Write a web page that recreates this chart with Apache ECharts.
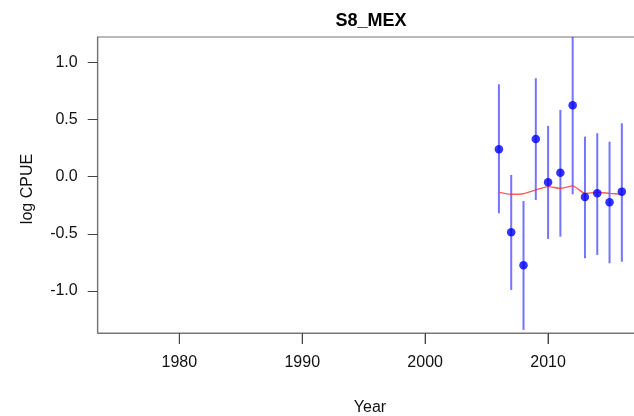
<!DOCTYPE html>
<html>
<head>
<meta charset="utf-8">
<script src="https://cdn.jsdelivr.net/npm/echarts@6/dist/echarts.min.js"></script>
<style>html,body{margin:0;padding:0;background:#fff}#c{width:634px;height:416px}</style>
</head>
<body>
<div id="c"></div>
<script>
const years = [2006, 2007, 2008, 2009, 2010, 2011, 2012, 2013, 2014, 2015, 2016];
const logCpue = [0.240, -0.487, -0.776, 0.330, -0.049, 0.035, 0.625, -0.178, -0.146, -0.224, -0.131];
const upper = [0.808, 0.015, -0.213, 0.861, 0.444, 0.584, 1.404, 0.350, 0.380, 0.306, 0.467];
const lower = [-0.320, -0.991, -1.341, -0.204, -0.545, -0.525, -0.154, -0.714, -0.685, -0.758, -0.744];
const fitted = [-0.137, -0.154, -0.149, -0.116, -0.087, -0.102, -0.081, -0.146, -0.137, -0.146, -0.154];
const xTicks = [1980, 1990, 2000, 2010];
const yTicks = [-1.0, -0.5, 0.0, 0.5, 1.0];

const X_MIN = 1973.36, X_MAX = 2017.64, Y_MIN = -1.368, Y_MAX = 1.222;
const FONT = '"Liberation Sans", Arial, sans-serif';
const chart = echarts.init(document.getElementById('c'), null, {renderer: 'canvas'});
chart.setOption({
  animation: false,
  backgroundColor: '#fff',
  title: {
    text: 'S8_MEX', left: 366, top: 7, textAlign: 'center',
    textStyle: {fontFamily: FONT, fontSize: 18, fontWeight: 'bold', color: '#000'}
  },
  grid: {left: 97.7, top: 37, width: 544.3, height: 296, outerBoundsMode: 'none', containLabel: false,
    show: true, borderColor: '#777', borderWidth: 1.2},
  xAxis: {
    type: 'value', min: X_MIN, max: X_MAX,
    axisLine: {show: true, onZero: false, lineStyle: {color: '#777', width: 1.2}},
    axisTick: {show: true, inside: false, customValues: xTicks, length: 11, lineStyle: {color: '#444', width: 1}},
    axisLabel: {customValues: xTicks, margin: 22, fontFamily: FONT, fontSize: 16, color: '#111',
      formatter: v => String(v)},
    splitLine: {show: false}
  },
  yAxis: {
    type: 'value', min: Y_MIN, max: Y_MAX,
    axisLine: {show: true, onZero: false, lineStyle: {color: '#777', width: 1.2}},
    axisTick: {show: true, customValues: yTicks, length: 10, lineStyle: {color: '#444', width: 1}},
    axisLabel: {customValues: yTicks, margin: 20, fontFamily: FONT, fontSize: 16, color: '#111',
      formatter: v => v.toFixed(1)},
    splitLine: {show: false}
  },
  graphic: [
    {type: 'text', x: 370, y: 408, style: {text: 'Year', align: 'center', verticalAlign: 'middle', font: '16px ' + FONT, fill: '#111'}},
    {type: 'text', rotation: Math.PI / 2, x: 28, y: 189, style: {text: 'log CPUE', align: 'center', verticalAlign: 'middle', font: '16px ' + FONT, fill: '#111'}}
  ],
  series: [
    {
      // x-axis tick marks below the plot box, placed through the x scale
      type: 'custom', clip: false, silent: true, z: 0,
      data: xTicks.map(v => [v, Y_MIN]),
      renderItem: (params, api) => {
        const p = api.coord([api.value(0), api.value(1)]);
        return {type: 'line', shape: {x1: p[0], y1: p[1], x2: p[0], y2: p[1] + 11},
          style: {stroke: '#444', lineWidth: 1}};
      }
    },
    {
      type: 'custom', clip: true, z: 1,
      data: years.map((y, i) => [y, lower[i], upper[i]]),
      renderItem: (params, api) => {
        const a = api.coord([api.value(0), api.value(1)]);
        const b = api.coord([api.value(0), api.value(2)]);
        return {type: 'line', shape: {x1: a[0], y1: a[1], x2: b[0], y2: b[1]},
          style: {stroke: 'rgba(50,50,255,0.68)', lineWidth: 2}};
      }
    },
    {
      type: 'line', data: years.map((y, i) => [y, fitted[i]]), smooth: 0.2,
      symbol: 'none', lineStyle: {color: 'rgba(255,50,50,0.8)', width: 1.4}, z: 2
    },
    {
      type: 'scatter', data: years.map((y, i) => [y, logCpue[i]]),
      symbol: 'circle', symbolSize: 8.5, itemStyle: {color: '#0000ff'}, z: 3
    }
  ]
});
</script>
</body>
</html>
